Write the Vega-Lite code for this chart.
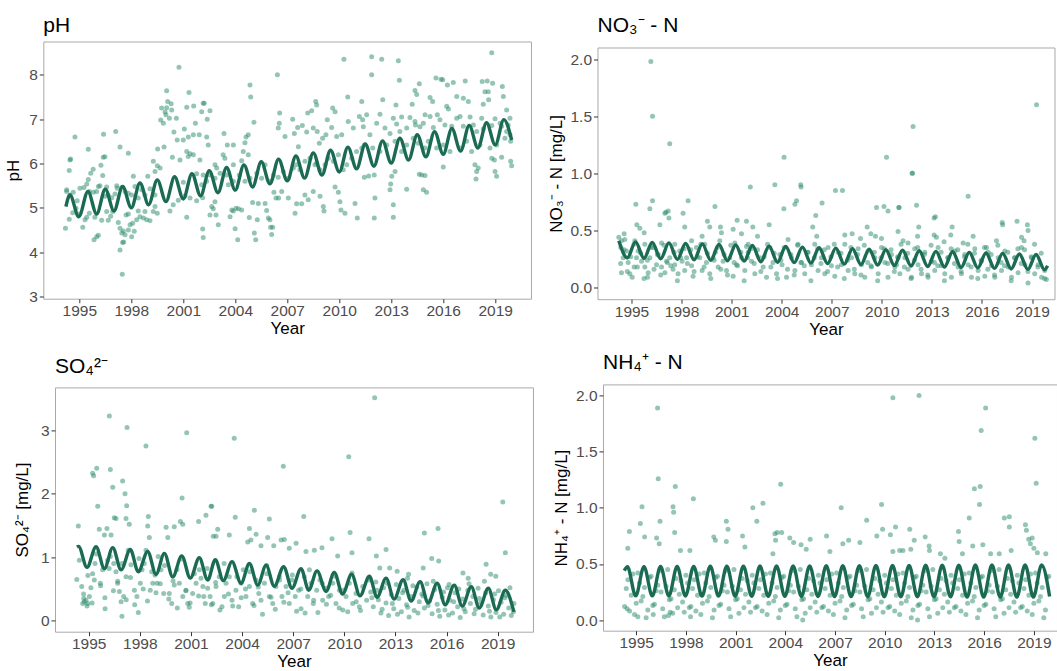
{
 "$schema": "https://vega.github.io/schema/vega-lite/v6.json",
 "padding": {"left": 0, "top": -4.4, "right": 0, "bottom": -0.5},
 "background": "white",
 "config": {
  "font": "Liberation Sans",
  "view": {"stroke": "#A9A9A9", "strokeWidth": 1},
  "axis": {"grid": false, "domain": false, "ticks": true, "tickSize": 4, "tickColor": "#333333", "tickWidth": 1,
   "labelFont": "Liberation Sans", "labelFontSize": 15.5, "labelColor": "#4D4D4D", "labelFlush": false, "labelOverlap": false,
   "titleFont": "Liberation Sans", "titleFontSize": 17, "titleFontWeight": "normal", "titleColor": "#000000"},
  "axisX": {"labelPadding": 1, "titlePadding": 1.7, "labelAngle": 0},
  "axisY": {"labelPadding": 2},
  "title": {"font": "Liberation Sans", "fontSize": 21, "fontWeight": "normal", "anchor": "start", "frame": "group", "color": "#000000", "baseline": "alphabetic"}
 },
 "datasets": {
  "ph": [
{"t":2000.75,"v":8.17},{"t":2000.04,"v":7.64},{"t":2001.33,"v":7.6},{"t":2000.1,"v":7.4},{"t":2000.3,"v":7.35},{"t":1999.75,"v":7.25},{"t":2000.04,"v":7.26},{"t":2000.33,"v":7.21},{"t":2001.2,"v":7.27},{"t":2001.6,"v":7.3},{"t":2002.15,"v":7.36},{"t":1999.95,"v":7.16},{"t":2000.0,"v":7.1},{"t":1999.7,"v":6.98},{"t":1999.85,"v":6.91},{"t":2000.6,"v":7.02},{"t":2000.2,"v":7.02},{"t":2001.06,"v":6.78},{"t":2001.7,"v":6.91},{"t":1997.1,"v":6.72},{"t":1994.75,"v":6.6},{"t":1996.4,"v":6.66},{"t":2000.46,"v":6.71},{"t":2000.65,"v":6.53},{"t":2001.0,"v":6.53},{"t":2001.29,"v":6.6},{"t":2001.58,"v":6.65},{"t":2001.92,"v":6.65},{"t":1997.35,"v":6.37},{"t":1997.83,"v":6.23},{"t":1995.52,"v":6.32},{"t":1999.52,"v":6.33},{"t":1999.89,"v":6.37},{"t":2001.2,"v":6.27},{"t":2001.58,"v":6.2},{"t":2001.39,"v":6.22},{"t":1994.5,"v":6.1},{"t":1994.46,"v":6.08},{"t":1996.48,"v":6.15},{"t":1996.38,"v":6.14},{"t":2000.37,"v":6.14},{"t":2000.81,"v":6.08},{"t":2001.29,"v":6.16},{"t":2001.96,"v":6.08},{"t":1996.25,"v":5.96},{"t":1995.8,"v":5.87},{"t":1995.66,"v":5.78},{"t":1995.52,"v":5.64},{"t":1995.43,"v":5.54},{"t":1994.42,"v":5.84},{"t":1994.27,"v":5.37},{"t":1996.35,"v":5.73},{"t":1998.12,"v":5.71},{"t":1997.16,"v":5.5},{"t":1996.58,"v":5.47},{"t":1996.1,"v":5.48},{"t":1998.95,"v":5.71},{"t":1999.5,"v":5.95},{"t":1999.27,"v":6.05},{"t":1999.37,"v":5.82},{"t":1999.66,"v":5.9},{"t":2001.0,"v":5.58},{"t":2001.77,"v":5.77},{"t":2002.15,"v":5.74},
{"t":1994.2,"v":4.54},{"t":1994.42,"v":4.74},{"t":1994.62,"v":4.89},{"t":1994.81,"v":4.99},{"t":1995.0,"v":4.86},{"t":1995.2,"v":4.56},{"t":1995.33,"v":4.73},{"t":1995.43,"v":4.79},{"t":1995.58,"v":4.88},{"t":1995.9,"v":4.79},{"t":1996.0,"v":4.35},{"t":1996.1,"v":4.38},{"t":1995.85,"v":4.28},{"t":1996.29,"v":4.72},{"t":1996.67,"v":4.72},{"t":1996.81,"v":4.81},{"t":1996.93,"v":4.92},{"t":1996.58,"v":4.92},{"t":1997.25,"v":4.67},{"t":1997.35,"v":4.54},{"t":1997.45,"v":4.43},{"t":1997.54,"v":4.48},{"t":1997.64,"v":4.39},{"t":1997.5,"v":4.22},{"t":1997.35,"v":4.05},{"t":1997.56,"v":4.23},{"t":1997.83,"v":4.5},{"t":1997.93,"v":4.62},{"t":1998.08,"v":4.65},{"t":1998.17,"v":4.47},{"t":1997.48,"v":3.5},{"t":1997.7,"v":4.84},{"t":1997.83,"v":4.86},{"t":1998.02,"v":4.35},{"t":1998.31,"v":4.73},{"t":1998.5,"v":4.8},{"t":1998.7,"v":4.77},{"t":1998.89,"v":4.73},{"t":1999.08,"v":4.71},{"t":1998.79,"v":4.92},{"t":1998.4,"v":4.93},{"t":1999.27,"v":4.92},{"t":1999.5,"v":4.88},{"t":1999.37,"v":5.03},{"t":2000.23,"v":4.93},{"t":2000.42,"v":5.07},{"t":2000.71,"v":5.17},{"t":2001.1,"v":5.27},{"t":2001.39,"v":5.22},{"t":2001.77,"v":5.16},{"t":2002.12,"v":5.23},{"t":2001.2,"v":4.79},
{"t":1994.27,"v":5.41},{"t":1994.46,"v":5.29},{"t":1994.65,"v":5.35},{"t":1994.88,"v":5.16},{"t":1995.04,"v":5.44},{"t":1995.27,"v":5.46},{"t":1995.58,"v":5.37},{"t":1995.81,"v":5.35},{"t":1996.0,"v":5.37},{"t":1996.19,"v":5.5},{"t":1996.48,"v":5.26},{"t":1996.67,"v":5.29},{"t":1996.87,"v":5.23},{"t":1997.06,"v":5.31},{"t":1997.19,"v":5.44},{"t":1997.45,"v":5.46},{"t":1997.64,"v":5.37},{"t":1997.83,"v":5.33},{"t":1998.02,"v":5.29},{"t":1998.21,"v":5.48},{"t":1998.4,"v":5.22},{"t":1998.6,"v":5.41},{"t":1998.79,"v":5.29},{"t":1999.08,"v":5.43},{"t":1999.37,"v":5.29},
{"t":2010.27,"v":8.35},{"t":2006.43,"v":8.0},{"t":2004.85,"v":7.77},{"t":2004.89,"v":7.5},{"t":2002.21,"v":7.36},{"t":2002.54,"v":7.19},{"t":2002.06,"v":7.17},{"t":2002.38,"v":7.0},{"t":2003.35,"v":6.68},{"t":2002.35,"v":6.6},{"t":2002.44,"v":6.42},{"t":2003.54,"v":6.42},{"t":2003.89,"v":6.42},{"t":2005.08,"v":6.93},{"t":2004.75,"v":6.65},{"t":2004.62,"v":6.6},{"t":2004.56,"v":6.47},{"t":2004.75,"v":6.2},{"t":2004.46,"v":6.27},{"t":2003.3,"v":6.2},{"t":2003.4,"v":6.12},{"t":2003.89,"v":5.97},{"t":2004.37,"v":6.06},{"t":2002.83,"v":5.97},{"t":2002.93,"v":5.9},{"t":2002.54,"v":5.74},
{"t":2002.06,"v":5.52},{"t":2002.35,"v":5.6},{"t":2002.83,"v":5.67},{"t":2003.12,"v":5.78},{"t":2003.5,"v":5.74},{"t":2003.6,"v":5.52},{"t":2003.89,"v":5.6},{"t":2004.23,"v":5.74},{"t":2004.56,"v":5.6},{"t":2004.85,"v":5.67},{"t":2005.24,"v":5.78},{"t":2005.52,"v":5.67},{"t":2005.72,"v":5.97},{"t":2006.0,"v":5.6},{"t":2006.2,"v":5.74},{"t":2006.48,"v":5.69},{"t":2006.77,"v":5.82},{"t":2007.06,"v":5.67},{"t":2007.35,"v":5.9},{"t":2007.54,"v":5.97},{"t":2007.73,"v":5.86},{"t":2008.02,"v":6.05},{"t":2008.31,"v":6.12},{"t":2008.6,"v":5.97},{"t":2008.7,"v":6.01},{"t":2008.89,"v":5.86},{"t":2009.18,"v":5.97},{"t":2009.37,"v":6.12},{"t":2009.66,"v":6.05},{"t":2009.95,"v":6.2},{"t":2010.23,"v":5.86},{"t":2010.43,"v":5.97},{"t":2010.72,"v":6.12},{"t":2011.0,"v":6.27},{"t":2011.3,"v":6.35},
{"t":2002.12,"v":4.52},{"t":2002.15,"v":4.33},{"t":2002.64,"v":5.03},{"t":2002.73,"v":4.98},{"t":2002.89,"v":4.84},{"t":2003.02,"v":4.62},{"t":2002.54,"v":4.84},{"t":2002.83,"v":5.14},{"t":2003.7,"v":4.8},{"t":2003.8,"v":4.95},{"t":2003.89,"v":4.93},{"t":2004.04,"v":4.99},{"t":2004.18,"v":4.98},{"t":2004.37,"v":4.95},{"t":2003.99,"v":4.53},{"t":2004.14,"v":4.28},{"t":2004.81,"v":4.78},{"t":2005.0,"v":5.12},{"t":2005.1,"v":4.43},{"t":2005.18,"v":4.28},{"t":2005.27,"v":4.73},{"t":2005.33,"v":5.1},{"t":2005.72,"v":5.1},{"t":2005.81,"v":4.94},{"t":2005.91,"v":4.77},{"t":2006.0,"v":4.73},{"t":2006.04,"v":4.56},{"t":2006.1,"v":4.4},{"t":2006.16,"v":4.56},{"t":2006.23,"v":5.35},{"t":2006.35,"v":5.22},{"t":2006.5,"v":5.22},{"t":2006.68,"v":5.37},{"t":2007.06,"v":5.22},{"t":2007.45,"v":4.88},{"t":2007.54,"v":5.09},{"t":2007.83,"v":5.09},{"t":2008.02,"v":5.29},{"t":2008.21,"v":5.18},{"t":2008.5,"v":5.37},{"t":2009.08,"v":5.03},{"t":2009.12,"v":4.93},{"t":2008.89,"v":5.26},{"t":2009.76,"v":5.47},{"t":2009.95,"v":5.35},{"t":2010.04,"v":5.14},{"t":2010.1,"v":4.95},{"t":2010.33,"v":4.88},{"t":2010.91,"v":5.1},{"t":2011.04,"v":4.77},
{"t":2006.56,"v":7.14},{"t":2006.54,"v":6.91},{"t":2006.48,"v":6.8},{"t":2006.87,"v":6.61},{"t":2007.31,"v":7.0},{"t":2007.41,"v":6.68},{"t":2007.6,"v":6.81},{"t":2007.87,"v":6.86},{"t":2007.64,"v":6.38},{"t":2008.12,"v":6.71},{"t":2008.18,"v":7.14},{"t":2008.41,"v":7.19},{"t":2008.64,"v":7.4},{"t":2008.7,"v":7.32},{"t":2008.5,"v":6.8},{"t":2008.73,"v":6.72},{"t":2008.85,"v":6.46},{"t":2009.04,"v":6.57},{"t":2009.23,"v":6.65},{"t":2009.31,"v":6.99},{"t":2009.56,"v":6.81},{"t":2009.62,"v":7.25},{"t":2009.76,"v":7.17},{"t":2009.85,"v":6.61},{"t":2010.14,"v":6.65},{"t":2010.49,"v":7.5},{"t":2010.52,"v":6.95},{"t":2010.81,"v":6.8},{"t":2011.16,"v":7.06},{"t":2011.3,"v":7.4},{"t":2011.35,"v":6.99},
{"t":2018.8,"v":8.5},{"t":2011.87,"v":8.41},{"t":2012.45,"v":8.35},{"t":2013.41,"v":8.32},{"t":2011.87,"v":8.0},{"t":2013.47,"v":7.88},{"t":2012.51,"v":7.44},{"t":2014.62,"v":7.8},{"t":2014.37,"v":7.65},{"t":2014.47,"v":7.56},{"t":2015.87,"v":7.9},{"t":2015.58,"v":7.93},{"t":2015.97,"v":7.89},{"t":2016.58,"v":7.83},{"t":2016.24,"v":7.77},{"t":2017.27,"v":7.86},{"t":2018.25,"v":7.85},{"t":2018.54,"v":7.86},{"t":2018.85,"v":7.81},{"t":2019.41,"v":7.74},{"t":2019.47,"v":7.51},{"t":2013.27,"v":7.32},{"t":2014.21,"v":7.34},{"t":2015.24,"v":7.49},{"t":2015.39,"v":7.4},{"t":2016.2,"v":7.29},{"t":2016.78,"v":7.51},{"t":2017.16,"v":7.47},{"t":2017.45,"v":7.4},{"t":2018.41,"v":7.62},{"t":2018.6,"v":7.62},{"t":2018.31,"v":7.34},{"t":2018.62,"v":7.44},{"t":2019.66,"v":7.21},{"t":2019.85,"v":7.02},{"t":2019.66,"v":6.72},{"t":2019.85,"v":6.65},{"t":2011.58,"v":7.1},{"t":2012.35,"v":7.11},{"t":2013.12,"v":7.02},{"t":2013.6,"v":7.05},{"t":2014.08,"v":7.04},{"t":2014.37,"v":6.95},{"t":2014.95,"v":7.1},{"t":2015.24,"v":7.06},{"t":2015.66,"v":7.1},{"t":2016.3,"v":7.23},{"t":2016.97,"v":7.06},{"t":2017.55,"v":7.05},{"t":2018.22,"v":7.02},{"t":2018.99,"v":7.01},{"t":2019.28,"v":6.91},
{"t":2011.39,"v":6.83},{"t":2011.77,"v":6.65},{"t":2012.16,"v":6.91},{"t":2012.64,"v":6.8},{"t":2012.93,"v":6.68},{"t":2013.31,"v":6.89},{"t":2013.5,"v":6.72},{"t":2013.89,"v":6.8},{"t":2014.4,"v":6.87},{"t":2014.66,"v":6.83},{"t":2014.85,"v":6.91},{"t":2015.43,"v":6.81},{"t":2015.81,"v":6.99},{"t":2016.1,"v":6.87},{"t":2016.49,"v":6.84},{"t":2016.78,"v":7.02},{"t":2017.16,"v":6.84},{"t":2017.74,"v":6.87},{"t":2017.93,"v":6.72},{"t":2018.31,"v":6.78},{"t":2018.8,"v":6.86},{"t":2019.37,"v":6.84},{"t":2019.75,"v":6.87},
{"t":2011.45,"v":6.42},{"t":2011.93,"v":6.35},{"t":2012.35,"v":6.27},{"t":2012.74,"v":6.42},{"t":2013.22,"v":6.5},{"t":2013.6,"v":6.27},{"t":2013.89,"v":6.42},{"t":2014.27,"v":6.57},{"t":2014.56,"v":6.46},{"t":2014.95,"v":6.35},{"t":2015.14,"v":6.5},{"t":2015.62,"v":6.35},{"t":2016.0,"v":6.42},{"t":2016.39,"v":6.27},{"t":2016.97,"v":6.35},{"t":2017.35,"v":6.5},{"t":2017.64,"v":6.27},{"t":2018.12,"v":6.42},{"t":2018.7,"v":6.35},{"t":2019.08,"v":6.42},{"t":2019.56,"v":6.57},{"t":2019.89,"v":6.5},
{"t":2011.45,"v":5.69},{"t":2011.7,"v":5.72},{"t":2012.02,"v":5.74},{"t":2012.06,"v":5.22},{"t":2012.02,"v":4.77},{"t":2012.93,"v":5.41},{"t":2012.97,"v":5.54},{"t":2013.03,"v":5.71},{"t":2013.22,"v":5.82},{"t":2013.12,"v":5.07},{"t":2013.12,"v":4.79},{"t":2013.89,"v":5.42},{"t":2014.62,"v":5.76},{"t":2014.76,"v":5.74},{"t":2014.95,"v":5.73},{"t":2014.85,"v":5.41},{"t":2015.04,"v":5.35},{"t":2016.0,"v":5.92},{"t":2017.83,"v":5.97},{"t":2018.02,"v":5.9},{"t":2017.93,"v":5.82},{"t":2017.89,"v":5.65},{"t":2018.8,"v":6.12},{"t":2018.95,"v":6.08},{"t":2018.99,"v":5.82},{"t":2019.08,"v":5.71},{"t":2019.37,"v":6.14},{"t":2019.89,"v":6.05},{"t":2019.95,"v":5.95}
  ],
  "phL": [
{"t":1994.23,"v":5.03},{"t":1994.46,"v":5.29},{"t":1994.97,"v":4.8},{"t":1995.5,"v":5.37},{"t":1996.0,"v":4.86},{"t":1996.5,"v":5.42},{"t":1997.0,"v":4.93},{"t":1997.5,"v":5.48},{"t":1998.0,"v":5.0},{"t":1998.5,"v":5.56},{"t":1999.0,"v":5.07},{"t":1999.5,"v":5.63},{"t":2000.0,"v":5.14},{"t":2000.5,"v":5.7},{"t":2001.0,"v":5.2},{"t":2001.5,"v":5.77},{"t":2002.0,"v":5.27},{"t":2002.5,"v":5.84},{"t":2003.0,"v":5.34},{"t":2003.5,"v":5.91},{"t":2004.0,"v":5.4},{"t":2004.5,"v":5.97},{"t":2005.0,"v":5.47},{"t":2005.5,"v":6.04},{"t":2006.0,"v":5.54},{"t":2006.5,"v":6.1},{"t":2007.0,"v":5.61},{"t":2007.5,"v":6.17},{"t":2008.0,"v":5.67},{"t":2008.5,"v":6.24},{"t":2009.0,"v":5.74},{"t":2009.5,"v":6.3},{"t":2010.0,"v":5.81},{"t":2010.5,"v":6.37},{"t":2011.0,"v":5.88},{"t":2011.5,"v":6.44},{"t":2012.0,"v":5.94},{"t":2012.5,"v":6.51},{"t":2013.0,"v":6.01},{"t":2013.5,"v":6.57},{"t":2014.0,"v":6.08},{"t":2014.5,"v":6.65},{"t":2015.0,"v":6.15},{"t":2015.5,"v":6.72},{"t":2016.0,"v":6.21},{"t":2016.5,"v":6.79},{"t":2017.0,"v":6.28},{"t":2017.5,"v":6.86},{"t":2018.0,"v":6.35},{"t":2018.5,"v":6.92},{"t":2019.0,"v":6.42},{"t":2019.5,"v":6.99},{"t":2019.95,"v":6.53}
  ],
  "no3": [
{"t":1996.16,"v":1.98},{"t":1996.26,"v":1.5},{"t":1997.29,"v":1.26},{"t":1995.26,"v":0.73},{"t":1996.1,"v":0.69},{"t":1996.26,"v":0.76},{"t":1997.06,"v":0.66},{"t":1997.2,"v":0.67},{"t":1997.24,"v":0.61},{"t":1997.0,"v":0.65},{"t":1998.39,"v":0.76},{"t":1998.09,"v":0.65},{"t":2000.0,"v":0.71},{"t":1995.32,"v":0.55},{"t":1995.5,"v":0.52},{"t":1995.76,"v":0.48},{"t":1996.7,"v":0.55},{"t":1998.19,"v":0.53},{"t":1999.23,"v":0.45},{"t":1999.55,"v":0.58},{"t":1999.69,"v":0.53},{"t":2000.33,"v":0.53},{"t":2000.39,"v":0.48},{"t":2001.09,"v":0.51},{"t":2001.33,"v":0.59},{"t":2002.12,"v":0.88},{"t":2001.59,"v":0.47},
{"t":1994.24,"v":0.44},{"t":1994.4,"v":0.41},{"t":1994.56,"v":0.47},{"t":1994.36,"v":0.35},{"t":1994.7,"v":0.32},{"t":1994.5,"v":0.26},{"t":1994.8,"v":0.22},{"t":1994.4,"v":0.13},{"t":1994.9,"v":0.12},{"t":1995.04,"v":0.09},{"t":1995.16,"v":0.18},{"t":1995.3,"v":0.26},{"t":1995.4,"v":0.32},{"t":1995.6,"v":0.23},{"t":1995.8,"v":0.18},{"t":1996.0,"v":0.13},{"t":1995.96,"v":0.09},{"t":1996.1,"v":0.26},{"t":1996.3,"v":0.35},{"t":1996.5,"v":0.2},{"t":1996.6,"v":0.29},{"t":1996.8,"v":0.18},{"t":1997.0,"v":0.13},{"t":1997.1,"v":0.23},{"t":1997.29,"v":0.26},{"t":1997.49,"v":0.16},{"t":1997.59,"v":0.2},{"t":1997.79,"v":0.12},{"t":1997.89,"v":0.32},{"t":1998.03,"v":0.23},{"t":1998.19,"v":0.15},{"t":1998.3,"v":0.26},{"t":1998.6,"v":0.19},{"t":1998.69,"v":0.1},{"t":1998.89,"v":0.35},{"t":1999.09,"v":0.26},{"t":1999.23,"v":0.15},{"t":1999.49,"v":0.22},{"t":1999.69,"v":0.12},{"t":1999.89,"v":0.26},{"t":2000.03,"v":0.31},{"t":2000.19,"v":0.18},{"t":2000.49,"v":0.23},{"t":2000.69,"v":0.15},{"t":2000.89,"v":0.26},{"t":2001.09,"v":0.1},{"t":2001.29,"v":0.2},{"t":2001.59,"v":0.26},{"t":2001.79,"v":0.15},{"t":2001.99,"v":0.31},
{"t":1994.6,"v":0.42},{"t":1995.2,"v":0.41},{"t":1995.8,"v":0.38},{"t":1996.8,"v":0.39},{"t":1997.59,"v":0.38},{"t":1998.6,"v":0.41},{"t":1999.39,"v":0.38},{"t":2000.29,"v":0.41},{"t":2001.19,"v":0.39},{"t":2001.89,"v":0.36},
{"t":2004.14,"v":1.14},{"t":2010.28,"v":1.14},{"t":2003.59,"v":0.9},{"t":2005.14,"v":0.9},{"t":2005.16,"v":0.88},{"t":2007.22,"v":0.85},{"t":2007.64,"v":0.85},{"t":2004.89,"v":0.76},{"t":2004.79,"v":0.73},{"t":2004.13,"v":0.69},{"t":2006.04,"v":0.63},{"t":2006.42,"v":0.74},{"t":2005.86,"v":0.53},{"t":2006.1,"v":0.45},{"t":2001.89,"v":0.58},{"t":2002.27,"v":0.53},{"t":2003.25,"v":0.55},{"t":2002.55,"v":0.45},{"t":2007.78,"v":0.46},{"t":2008.22,"v":0.47},{"t":2008.72,"v":0.43},{"t":2009.12,"v":0.53},{"t":2009.34,"v":0.47},{"t":2009.62,"v":0.45},{"t":2009.68,"v":0.7},{"t":2010.13,"v":0.71},{"t":2010.37,"v":0.67},{"t":2011.02,"v":0.7},{"t":2009.98,"v":0.43},
{"t":2001.99,"v":0.38},{"t":2002.19,"v":0.23},{"t":2002.39,"v":0.12},{"t":2002.69,"v":0.26},{"t":2002.89,"v":0.18},{"t":2003.09,"v":0.09},{"t":2003.29,"v":0.35},{"t":2003.48,"v":0.22},{"t":2003.69,"v":0.12},{"t":2003.89,"v":0.29},{"t":2004.02,"v":0.2},{"t":2004.29,"v":0.09},{"t":2004.38,"v":0.42},{"t":2004.59,"v":0.26},{"t":2004.79,"v":0.15},{"t":2004.98,"v":0.38},{"t":2005.19,"v":0.22},{"t":2005.38,"v":0.12},{"t":2005.58,"v":0.31},{"t":2005.78,"v":0.2},{"t":2005.98,"v":0.38},{"t":2006.18,"v":0.15},{"t":2006.38,"v":0.26},{"t":2006.58,"v":0.12},{"t":2006.78,"v":0.35},{"t":2006.98,"v":0.19},{"t":2007.18,"v":0.1},{"t":2007.38,"v":0.31},{"t":2007.58,"v":0.2},{"t":2007.78,"v":0.38},{"t":2007.98,"v":0.15},{"t":2008.18,"v":0.26},{"t":2008.38,"v":0.12},{"t":2008.58,"v":0.34},{"t":2008.78,"v":0.2},{"t":2008.98,"v":0.09},{"t":2009.18,"v":0.32},{"t":2009.38,"v":0.18},{"t":2009.58,"v":0.26},{"t":2009.78,"v":0.12},{"t":2009.98,"v":0.35},{"t":2010.18,"v":0.22},{"t":2010.37,"v":0.09},{"t":2010.58,"v":0.29},{"t":2010.78,"v":0.18},{"t":2010.97,"v":0.26},
{"t":2019.27,"v":1.6},{"t":2011.87,"v":1.41},{"t":2011.81,"v":1.0},{"t":2011.84,"v":1.0},{"t":2015.17,"v":0.8},{"t":2011.03,"v":0.7},{"t":2012.08,"v":0.72},{"t":2013.13,"v":0.61},{"t":2013.21,"v":0.62},{"t":2012.21,"v":0.53},{"t":2012.14,"v":0.45},{"t":2013.13,"v":0.46},{"t":2013.27,"v":0.44},{"t":2013.73,"v":0.4},{"t":2014.13,"v":0.46},{"t":2014.21,"v":0.53},{"t":2014.87,"v":0.39},{"t":2015.47,"v":0.45},{"t":2016.27,"v":0.35},{"t":2016.87,"v":0.41},{"t":2017.21,"v":0.57},{"t":2017.24,"v":0.55},{"t":2018.1,"v":0.58},{"t":2018.37,"v":0.44},{"t":2018.52,"v":0.41},{"t":2018.72,"v":0.55},{"t":2018.76,"v":0.5},{"t":2010.97,"v":0.49},{"t":2011.27,"v":0.41},{"t":2011.57,"v":0.39},
{"t":2010.88,"v":0.2},{"t":2011.08,"v":0.12},{"t":2011.38,"v":0.26},{"t":2011.57,"v":0.16},{"t":2011.78,"v":0.09},{"t":2011.97,"v":0.34},{"t":2012.17,"v":0.2},{"t":2012.38,"v":0.12},{"t":2012.57,"v":0.31},{"t":2012.77,"v":0.09},{"t":2012.97,"v":0.23},{"t":2013.17,"v":0.15},{"t":2013.37,"v":0.35},{"t":2013.57,"v":0.19},{"t":2013.77,"v":0.12},{"t":2013.97,"v":0.26},{"t":2014.17,"v":0.09},{"t":2014.37,"v":0.32},{"t":2014.57,"v":0.18},{"t":2014.77,"v":0.12},{"t":2014.97,"v":0.29},{"t":2015.17,"v":0.2},{"t":2015.37,"v":0.09},{"t":2015.57,"v":0.34},{"t":2015.77,"v":0.15},{"t":2015.97,"v":0.23},{"t":2016.17,"v":0.1},{"t":2016.37,"v":0.31},{"t":2016.57,"v":0.19},{"t":2016.77,"v":0.09},{"t":2016.97,"v":0.26},{"t":2017.17,"v":0.15},{"t":2017.37,"v":0.32},{"t":2017.57,"v":0.18},{"t":2017.77,"v":0.09},{"t":2017.97,"v":0.26},{"t":2018.16,"v":0.13},{"t":2018.37,"v":0.35},{"t":2018.57,"v":0.2},{"t":2018.76,"v":0.04},{"t":2018.97,"v":0.26},{"t":2019.16,"v":0.12},{"t":2019.36,"v":0.2},{"t":2019.57,"v":0.09},{"t":2019.76,"v":0.15},{"t":2019.86,"v":0.07},
{"t":1994.35,"v":0.21},{"t":1994.55,"v":0.33},{"t":1994.75,"v":0.14},{"t":1994.95,"v":0.27},{"t":1995.15,"v":0.38},{"t":1995.35,"v":0.18},{"t":1995.55,"v":0.3},{"t":1995.75,"v":0.08},{"t":1995.95,"v":0.24},{"t":1996.15,"v":0.35},{"t":1996.35,"v":0.16},{"t":1996.55,"v":0.29},{"t":1996.75,"v":0.11},{"t":1996.95,"v":0.37},{"t":1997.15,"v":0.22},{"t":1997.35,"v":0.19},{"t":1997.55,"v":0.31},{"t":1997.75,"v":0.06},{"t":1997.95,"v":0.26},{"t":1998.15,"v":0.34},
{"t":1998.35,"v":0.21},{"t":1998.55,"v":0.33},{"t":1998.75,"v":0.14},{"t":1998.95,"v":0.27},{"t":1999.15,"v":0.38},{"t":1999.35,"v":0.18},{"t":1999.55,"v":0.3},{"t":1999.75,"v":0.08},{"t":1999.95,"v":0.24},{"t":2000.15,"v":0.35},{"t":2000.35,"v":0.16},{"t":2000.55,"v":0.29},{"t":2000.75,"v":0.11},{"t":2000.95,"v":0.37},{"t":2001.15,"v":0.22},{"t":2001.35,"v":0.19},{"t":2001.55,"v":0.31},{"t":2001.75,"v":0.06},{"t":2001.95,"v":0.26},{"t":2002.15,"v":0.34},
{"t":2002.35,"v":0.21},{"t":2002.55,"v":0.33},{"t":2002.75,"v":0.14},{"t":2002.95,"v":0.27},{"t":2003.15,"v":0.38},{"t":2003.35,"v":0.18},{"t":2003.55,"v":0.3},{"t":2003.75,"v":0.08},{"t":2003.95,"v":0.24},{"t":2004.15,"v":0.35},{"t":2004.35,"v":0.16},{"t":2004.55,"v":0.29},{"t":2004.75,"v":0.11},{"t":2004.95,"v":0.37},{"t":2005.15,"v":0.22},{"t":2005.35,"v":0.19},{"t":2005.55,"v":0.31},{"t":2005.75,"v":0.06},{"t":2005.95,"v":0.26},{"t":2006.15,"v":0.34},
{"t":2006.35,"v":0.21},{"t":2006.55,"v":0.33},{"t":2006.75,"v":0.14},{"t":2006.95,"v":0.27},{"t":2007.15,"v":0.38},{"t":2007.35,"v":0.18},{"t":2007.55,"v":0.3},{"t":2007.75,"v":0.08},{"t":2007.95,"v":0.24},{"t":2008.15,"v":0.35},{"t":2008.35,"v":0.16},{"t":2008.55,"v":0.29},{"t":2008.75,"v":0.11},{"t":2008.95,"v":0.37},{"t":2009.15,"v":0.22},{"t":2009.35,"v":0.19},{"t":2009.55,"v":0.31},{"t":2009.75,"v":0.06},{"t":2009.95,"v":0.26},{"t":2010.15,"v":0.34},
{"t":2010.35,"v":0.21},{"t":2010.55,"v":0.33},{"t":2010.75,"v":0.14},{"t":2010.95,"v":0.27},{"t":2011.15,"v":0.38},{"t":2011.35,"v":0.18},{"t":2011.55,"v":0.3},{"t":2011.75,"v":0.08},{"t":2011.95,"v":0.24},{"t":2012.15,"v":0.35},{"t":2012.35,"v":0.16},{"t":2012.55,"v":0.29},{"t":2012.75,"v":0.11},{"t":2012.95,"v":0.37},{"t":2013.15,"v":0.22},{"t":2013.35,"v":0.19},{"t":2013.55,"v":0.31},{"t":2013.75,"v":0.06},{"t":2013.95,"v":0.26},{"t":2014.15,"v":0.34},
{"t":2014.35,"v":0.21},{"t":2014.55,"v":0.33},{"t":2014.75,"v":0.14},{"t":2014.95,"v":0.27},{"t":2015.15,"v":0.38},{"t":2015.35,"v":0.18},{"t":2015.55,"v":0.3},{"t":2015.75,"v":0.08},{"t":2015.95,"v":0.24},{"t":2016.15,"v":0.35},{"t":2016.35,"v":0.16},{"t":2016.55,"v":0.29},{"t":2016.75,"v":0.11},{"t":2016.95,"v":0.37},{"t":2017.15,"v":0.22},{"t":2017.35,"v":0.19},{"t":2017.55,"v":0.31},{"t":2017.75,"v":0.06},{"t":2017.95,"v":0.26},{"t":2018.15,"v":0.34},
{"t":2018.35,"v":0.21},{"t":2018.55,"v":0.33},{"t":2018.75,"v":0.14},{"t":2018.95,"v":0.27},{"t":2019.15,"v":0.38},{"t":2019.35,"v":0.18},{"t":2019.55,"v":0.3},{"t":2019.75,"v":0.08}
  ],
  "no3L": [
{"t":1994.24,"v":0.41},{"t":1994.75,"v":0.26},{"t":1995.24,"v":0.4},{"t":1995.75,"v":0.256},{"t":1996.24,"v":0.395},{"t":1996.75,"v":0.252},{"t":1997.24,"v":0.391},{"t":1997.75,"v":0.247},{"t":1998.24,"v":0.386},{"t":1998.75,"v":0.243},{"t":1999.24,"v":0.382},{"t":1999.75,"v":0.239},{"t":2000.24,"v":0.377},{"t":2000.75,"v":0.235},{"t":2001.24,"v":0.372},{"t":2001.75,"v":0.231},{"t":2002.24,"v":0.368},{"t":2002.75,"v":0.226},{"t":2003.24,"v":0.363},{"t":2003.75,"v":0.222},{"t":2004.24,"v":0.359},{"t":2004.75,"v":0.218},{"t":2005.24,"v":0.354},{"t":2005.75,"v":0.214},{"t":2006.24,"v":0.349},{"t":2006.75,"v":0.21},{"t":2007.24,"v":0.345},{"t":2007.75,"v":0.205},{"t":2008.24,"v":0.34},{"t":2008.75,"v":0.201},{"t":2009.24,"v":0.336},{"t":2009.75,"v":0.197},{"t":2010.24,"v":0.331},{"t":2010.75,"v":0.193},{"t":2011.24,"v":0.326},{"t":2011.75,"v":0.189},{"t":2012.24,"v":0.322},{"t":2012.75,"v":0.184},{"t":2013.24,"v":0.317},{"t":2013.75,"v":0.18},{"t":2014.24,"v":0.313},{"t":2014.75,"v":0.176},{"t":2015.24,"v":0.308},{"t":2015.75,"v":0.172},{"t":2016.24,"v":0.303},{"t":2016.75,"v":0.168},{"t":2017.24,"v":0.299},{"t":2017.75,"v":0.163},{"t":2018.24,"v":0.294},{"t":2018.75,"v":0.159},{"t":2019.24,"v":0.29},{"t":2019.75,"v":0.155},{"t":2019.93,"v":0.19}
  ],
  "so4": [
{"t":1996.21,"v":3.22},{"t":1997.25,"v":3.04},{"t":2000.75,"v":2.96},{"t":1998.36,"v":2.75},{"t":1995.23,"v":2.32},{"t":1995.29,"v":2.28},{"t":1995.47,"v":2.4},{"t":1996.27,"v":2.38},{"t":1996.41,"v":2.1},{"t":1996.99,"v":2.2},{"t":1997.13,"v":2.0},{"t":1997.23,"v":1.81},{"t":1995.53,"v":1.8},{"t":1997.38,"v":1.52},{"t":1996.6,"v":1.61},{"t":1996.5,"v":1.62},{"t":1994.39,"v":1.49},{"t":1995.62,"v":1.44},{"t":1995.92,"v":1.35},{"t":1996.07,"v":1.45},{"t":1996.31,"v":1.35},{"t":1997.19,"v":1.61},{"t":1998.46,"v":1.49},{"t":1998.5,"v":1.64},{"t":1998.56,"v":1.31},{"t":2000.48,"v":1.93},{"t":2000.38,"v":1.56},{"t":2000.52,"v":1.52},{"t":1999.54,"v":1.47},{"t":1999.64,"v":1.31},{"t":2000.02,"v":1.48},{"t":2001.45,"v":1.56},{"t":2001.88,"v":1.66},{"t":2002.18,"v":1.8},
{"t":1994.3,"v":0.65},{"t":1994.59,"v":0.54},{"t":1994.71,"v":0.35},{"t":1994.74,"v":0.3},{"t":1994.84,"v":0.32},{"t":1994.94,"v":0.27},{"t":1994.65,"v":0.27},{"t":1995.04,"v":0.38},{"t":1994.9,"v":0.23},{"t":1995.13,"v":0.52},{"t":1995.23,"v":0.74},{"t":1995.33,"v":0.64},{"t":1995.37,"v":0.9},{"t":1995.68,"v":0.59},{"t":1995.82,"v":0.8},{"t":1995.96,"v":0.19},{"t":1996.11,"v":0.95},{"t":1996.27,"v":1.01},{"t":1996.47,"v":0.9},{"t":1996.6,"v":0.77},{"t":1996.7,"v":0.59},{"t":1996.8,"v":0.46},{"t":1996.9,"v":0.3},{"t":1996.95,"v":0.07},{"t":1997.05,"v":0.38},{"t":1997.19,"v":0.69},{"t":1997.32,"v":1.11},{"t":1997.48,"v":0.88},{"t":1997.68,"v":0.48},{"t":1997.83,"v":0.38},{"t":1997.91,"v":0.13},{"t":1998.03,"v":0.59},{"t":1998.13,"v":0.8},{"t":1998.26,"v":0.9},{"t":1998.36,"v":1.11},{"t":1998.61,"v":0.48},{"t":1998.76,"v":0.59},{"t":1998.89,"v":0.72},{"t":1999.01,"v":0.59},{"t":1999.08,"v":1.01},{"t":1999.24,"v":0.8},{"t":1999.4,"v":0.43},{"t":1999.73,"v":0.43},{"t":1999.87,"v":0.27},{"t":2000.02,"v":0.56},{"t":2000.18,"v":0.8},{"t":2000.32,"v":0.59},{"t":2000.52,"v":0.38},{"t":2000.71,"v":0.48},{"t":2000.81,"v":0.27},{"t":2000.9,"v":0.21},{"t":2001.1,"v":0.43},{"t":2001.3,"v":0.59},{"t":2001.49,"v":0.8},{"t":2001.59,"v":0.67},{"t":2001.75,"v":0.38},{"t":2001.84,"v":0.27},{"t":2001.98,"v":0.51},
{"t":2003.54,"v":2.87},{"t":2006.42,"v":2.43},{"t":2010.26,"v":2.58},{"t":2002.22,"v":1.8},{"t":2004.72,"v":1.74},{"t":2003.6,"v":1.63},{"t":2005.6,"v":1.6},{"t":2007.62,"v":1.64},{"t":2002.31,"v":1.33},{"t":2002.47,"v":1.33},{"t":2002.57,"v":1.44},{"t":2003.25,"v":1.35},{"t":2004.43,"v":1.45},{"t":2004.52,"v":1.27},{"t":2004.33,"v":1.24},{"t":2004.82,"v":1.36},{"t":2005.11,"v":1.18},{"t":2005.5,"v":1.31},{"t":2005.86,"v":1.18},{"t":2006.29,"v":1.27},{"t":2006.48,"v":1.28},{"t":2006.77,"v":1.14},{"t":2007.17,"v":1.22},{"t":2007.75,"v":1.09},{"t":2008.24,"v":1.11},{"t":2008.69,"v":1.15},{"t":2009.28,"v":1.29},{"t":2009.61,"v":1.02},{"t":2010.34,"v":1.39},{"t":2010.45,"v":1.07},
{"t":2002.12,"v":0.38},{"t":2002.28,"v":0.27},{"t":2002.47,"v":0.54},{"t":2002.66,"v":0.69},{"t":2002.82,"v":0.22},{"t":2002.96,"v":0.38},{"t":2003.06,"v":0.59},{"t":2003.25,"v":0.69},{"t":2003.41,"v":0.32},{"t":2003.64,"v":0.48},{"t":2003.8,"v":0.22},{"t":2003.94,"v":0.59},{"t":2004.07,"v":0.8},{"t":2004.23,"v":0.38},{"t":2004.43,"v":0.54},{"t":2004.62,"v":0.27},{"t":2004.82,"v":0.64},{"t":2004.98,"v":0.43},{"t":2005.11,"v":0.32},{"t":2005.31,"v":0.59},{"t":2005.45,"v":0.74},{"t":2005.6,"v":0.38},{"t":2005.8,"v":0.27},{"t":2005.99,"v":0.54},{"t":2006.19,"v":0.69},{"t":2006.34,"v":0.38},{"t":2006.58,"v":0.54},{"t":2006.77,"v":0.27},{"t":2006.93,"v":0.64},{"t":2007.12,"v":0.38},{"t":2007.32,"v":0.48},{"t":2007.46,"v":0.19},{"t":2007.65,"v":0.69},{"t":2007.85,"v":0.38},{"t":2008.05,"v":0.59},{"t":2008.18,"v":0.27},{"t":2008.38,"v":0.48},{"t":2008.57,"v":0.64},{"t":2008.73,"v":0.32},{"t":2008.93,"v":0.51},{"t":2009.08,"v":0.38},{"t":2009.32,"v":0.59},{"t":2009.51,"v":0.27},{"t":2009.71,"v":0.48},{"t":2009.91,"v":0.17},{"t":2010.1,"v":0.38},{"t":2010.29,"v":0.59},{"t":2010.49,"v":0.27},{"t":2010.69,"v":0.43},{"t":2010.88,"v":0.22},{"t":2011.08,"v":0.54},{"t":2011.31,"v":0.32},{"t":2011.47,"v":0.64},
{"t":2011.78,"v":3.51},{"t":2011.45,"v":1.29},{"t":2011.88,"v":1.02},{"t":2012.45,"v":1.12},{"t":2012.08,"v":0.83},{"t":2012.66,"v":0.83},{"t":2013.1,"v":0.78},{"t":2013.71,"v":0.67},{"t":2013.77,"v":0.73},{"t":2014.7,"v":1.38},{"t":2014.63,"v":0.83},{"t":2015.13,"v":0.98},{"t":2015.5,"v":1.45},{"t":2015.54,"v":0.94},{"t":2016.15,"v":0.57},{"t":2016.96,"v":0.75},{"t":2017.27,"v":0.67},{"t":2018.32,"v":0.89},{"t":2018.59,"v":0.73},{"t":2018.89,"v":0.7},{"t":2019.3,"v":1.87},{"t":2019.45,"v":1.07},
{"t":2011.55,"v":0.45},{"t":2011.7,"v":0.22},{"t":2011.85,"v":0.61},{"t":2012.0,"v":0.33},{"t":2012.15,"v":0.12},{"t":2012.3,"v":0.52},{"t":2012.45,"v":0.28},{"t":2012.6,"v":0.08},{"t":2012.75,"v":0.41},{"t":2012.9,"v":0.19},{"t":2013.05,"v":0.57},{"t":2013.2,"v":0.35},{"t":2013.35,"v":0.14},{"t":2013.5,"v":0.48},{"t":2013.65,"v":0.25},{"t":2013.8,"v":0.06},{"t":2013.95,"v":0.38},{"t":2014.1,"v":0.16},{"t":2014.25,"v":0.53},{"t":2014.4,"v":0.3},{"t":2014.55,"v":0.42},{"t":2014.7,"v":0.2},{"t":2014.85,"v":0.58},{"t":2015.0,"v":0.31},{"t":2015.15,"v":0.11},{"t":2015.3,"v":0.49},{"t":2015.45,"v":0.26},{"t":2015.6,"v":0.07},{"t":2015.75,"v":0.37},{"t":2015.9,"v":0.17},{"t":2016.05,"v":0.52},{"t":2016.2,"v":0.32},{"t":2016.35,"v":0.12},{"t":2016.5,"v":0.44},{"t":2016.65,"v":0.22},{"t":2016.8,"v":0.05},{"t":2016.95,"v":0.34},{"t":2017.1,"v":0.14},{"t":2017.25,"v":0.48},{"t":2017.4,"v":0.27},{"t":2017.55,"v":0.38},{"t":2017.7,"v":0.18},{"t":2017.85,"v":0.51},{"t":2018.0,"v":0.28},{"t":2018.15,"v":0.09},{"t":2018.3,"v":0.44},{"t":2018.45,"v":0.23},{"t":2018.6,"v":0.06},{"t":2018.75,"v":0.33},{"t":2018.9,"v":0.13},{"t":2019.05,"v":0.47},{"t":2019.2,"v":0.29},{"t":2019.35,"v":0.1},{"t":2019.5,"v":0.4},{"t":2019.65,"v":0.2},{"t":2019.8,"v":0.08},{"t":2019.95,"v":0.27},
{"t":2011.62,"v":0.36},{"t":2011.92,"v":0.48},{"t":2012.22,"v":0.18},{"t":2012.52,"v":0.59},{"t":2012.82,"v":0.27},{"t":2013.12,"v":0.1},{"t":2013.42,"v":0.44},{"t":2013.72,"v":0.21},{"t":2014.02,"v":0.55},{"t":2014.32,"v":0.12},{"t":2014.62,"v":0.39},{"t":2014.92,"v":0.24},{"t":2015.22,"v":0.62},{"t":2015.52,"v":0.16},{"t":2015.82,"v":0.45},{"t":2016.12,"v":0.09},{"t":2016.42,"v":0.3},{"t":2016.72,"v":0.5},{"t":2017.02,"v":0.19},{"t":2017.32,"v":0.58},{"t":2017.62,"v":0.11},{"t":2017.92,"v":0.35},{"t":2018.22,"v":0.62},{"t":2018.52,"v":0.15},{"t":2018.82,"v":0.42},{"t":2019.12,"v":0.06},{"t":2019.42,"v":0.36},{"t":2019.72,"v":0.52},{"t":2019.92,"v":0.14},
{"t":1994.45,"v":0.95},{"t":1994.7,"v":0.42},{"t":1994.95,"v":0.71},{"t":1995.2,"v":0.28},{"t":1995.45,"v":1.05},{"t":1995.7,"v":0.55},{"t":1995.95,"v":0.36},{"t":1996.2,"v":0.82},{"t":1996.45,"v":0.47},{"t":1996.7,"v":0.62},{"t":1996.95,"v":0.9},{"t":1997.2,"v":0.33},{"t":1997.45,"v":0.68},{"t":1997.7,"v":0.25},{"t":1997.95,"v":0.98},{"t":1998.2,"v":0.5},{"t":1998.45,"v":0.31},{"t":1998.7,"v":0.77},{"t":1998.95,"v":0.44},{"t":1999.2,"v":0.58},
{"t":1999.45,"v":0.87},{"t":1999.7,"v":0.34},{"t":1999.95,"v":0.63},{"t":2000.2,"v":0.2},{"t":2000.45,"v":0.97},{"t":2000.7,"v":0.47},{"t":2000.95,"v":0.28},{"t":2001.2,"v":0.74},{"t":2001.45,"v":0.39},{"t":2001.7,"v":0.54},{"t":2001.95,"v":0.82},{"t":2002.2,"v":0.25},{"t":2002.45,"v":0.6},{"t":2002.7,"v":0.17},{"t":2002.95,"v":0.9},{"t":2003.2,"v":0.42},{"t":2003.45,"v":0.23},{"t":2003.7,"v":0.69},{"t":2003.95,"v":0.36},{"t":2004.2,"v":0.5},
{"t":2004.45,"v":0.77},{"t":2004.7,"v":0.24},{"t":2004.95,"v":0.53},{"t":2005.2,"v":0.1},{"t":2005.45,"v":0.87},{"t":2005.7,"v":0.37},{"t":2005.95,"v":0.18},{"t":2006.2,"v":0.64},{"t":2006.45,"v":0.29},{"t":2006.7,"v":0.44},{"t":2006.95,"v":0.72},{"t":2007.2,"v":0.15},{"t":2007.45,"v":0.5},{"t":2007.7,"v":0.12},{"t":2007.95,"v":0.8},{"t":2008.2,"v":0.32},{"t":2008.45,"v":0.13},{"t":2008.7,"v":0.59},{"t":2008.95,"v":0.26},{"t":2009.2,"v":0.4},
{"t":2009.45,"v":0.7},{"t":2009.7,"v":0.2},{"t":2009.95,"v":0.48},{"t":2010.2,"v":0.14},{"t":2010.45,"v":0.75},{"t":2010.7,"v":0.3},{"t":2010.95,"v":0.16}
  ],
  "so4L": [
{"t":1994.31,"v":1.16},{"t":1994.4,"v":1.17},{"t":1994.9,"v":0.84},{"t":1995.43,"v":1.165},{"t":1995.92,"v":0.82},{"t":1996.41,"v":1.15},{"t":1996.9,"v":0.8},{"t":1997.44,"v":1.12},{"t":1997.91,"v":0.77},{"t":1998.46,"v":1.09},{"t":1998.95,"v":0.73},{"t":1999.44,"v":1.06},{"t":1999.93,"v":0.69},{"t":2000.46,"v":1.02},{"t":2000.96,"v":0.67},{"t":2001.49,"v":0.99},{"t":2001.98,"v":0.64},{"t":2002.43,"v":0.96},{"t":2002.9,"v":0.63},{"t":2003.41,"v":0.93},{"t":2003.94,"v":0.59},{"t":2004.43,"v":0.9},{"t":2004.92,"v":0.56},{"t":2005.41,"v":0.875},{"t":2005.89,"v":0.54},{"t":2006.44,"v":0.85},{"t":2006.93,"v":0.51},{"t":2007.46,"v":0.82},{"t":2007.91,"v":0.48},{"t":2008.4,"v":0.785},{"t":2008.93,"v":0.46},{"t":2009.41,"v":0.76},{"t":2009.9,"v":0.42},{"t":2010.43,"v":0.73},{"t":2010.92,"v":0.39},{"t":2011.47,"v":0.7},{"t":2011.92,"v":0.37},{"t":2012.45,"v":0.67},{"t":2012.92,"v":0.34},{"t":2013.45,"v":0.645},{"t":2013.92,"v":0.31},{"t":2014.45,"v":0.615},{"t":2014.92,"v":0.28},{"t":2015.45,"v":0.59},{"t":2015.92,"v":0.25},{"t":2016.45,"v":0.56},{"t":2016.92,"v":0.23},{"t":2017.45,"v":0.535},{"t":2017.92,"v":0.2},{"t":2018.45,"v":0.51},{"t":2018.92,"v":0.17},{"t":2019.45,"v":0.48},{"t":2019.95,"v":0.14}
  ],
  "nh4": [
{"t":1996.29,"v":1.89},{"t":1996.33,"v":1.26},{"t":2010.49,"v":1.98},{"t":2012.07,"v":2.0},{"t":2016.09,"v":1.89},{"t":2015.82,"v":1.69},{"t":2015.76,"v":1.19},{"t":2015.72,"v":1.03},{"t":2015.41,"v":1.17},{"t":2015.1,"v":0.91},{"t":2019.06,"v":1.62},{"t":2019.14,"v":1.22},{"t":1997.36,"v":1.19},{"t":1997.22,"v":1.01},{"t":1997.26,"v":0.96},{"t":1997.32,"v":0.78},{"t":1995.35,"v":1.01},{"t":1995.25,"v":0.86},{"t":1995.51,"v":0.74},{"t":1994.59,"v":0.79},{"t":1994.49,"v":0.64},{"t":1996.44,"v":0.88},{"t":1996.23,"v":0.73},{"t":1996.39,"v":0.68},{"t":1998.45,"v":1.08},{"t":1998.24,"v":0.62},{"t":1997.67,"v":0.62},{"t":1999.68,"v":0.74},{"t":1999.78,"v":0.71},{"t":2000.44,"v":0.88},{"t":2000.54,"v":0.81},{"t":2000.44,"v":0.7},{"t":2001.42,"v":0.75},{"t":2001.56,"v":0.65},{"t":2002.04,"v":1.0},{"t":2002.28,"v":0.88},{"t":2002.65,"v":1.04},{"t":2003.72,"v":1.21},{"t":2003.25,"v":0.59},{"t":2003.37,"v":0.77},{"t":2003.51,"v":0.78},{"t":2003.78,"v":0.78},{"t":2003.41,"v":0.71},{"t":2004.27,"v":0.73},{"t":2004.5,"v":0.69},{"t":2004.95,"v":0.67},{"t":2005.26,"v":0.63},{"t":2005.5,"v":0.72},{"t":2006.49,"v":0.75},{"t":2006.69,"v":0.61},{"t":2007.37,"v":1.0},{"t":2007.47,"v":0.68},{"t":2007.82,"v":0.71},{"t":2008.5,"v":0.69},{"t":2008.91,"v":0.89},{"t":2009.52,"v":0.75},{"t":2009.87,"v":0.81},{"t":2009.81,"v":1.03},{"t":2010.34,"v":0.76},{"t":2010.65,"v":0.83},{"t":2010.9,"v":0.62},{"t":2011.1,"v":0.62},{"t":2010.49,"v":0.61},{"t":2011.51,"v":0.81},{"t":2011.78,"v":0.71},{"t":2011.57,"v":0.63},{"t":2012.44,"v":0.74},{"t":2012.68,"v":0.66},{"t":2012.7,"v":0.62},{"t":2013.36,"v":0.59},{"t":2013.63,"v":0.55},{"t":2014.45,"v":0.79},{"t":2014.49,"v":0.7},{"t":2014.69,"v":0.59},{"t":2015.31,"v":0.66},{"t":2015.92,"v":0.67},{"t":2016.39,"v":0.59},{"t":2017.22,"v":0.91},{"t":2017.52,"v":0.92},{"t":2017.52,"v":0.83},{"t":2017.63,"v":0.62},{"t":2016.91,"v":0.59},{"t":2018.49,"v":0.85},{"t":2018.55,"v":0.8},{"t":2018.69,"v":0.72},{"t":2018.79,"v":0.68},{"t":2018.9,"v":0.73},{"t":2019.0,"v":0.64},{"t":2019.21,"v":0.6},{"t":2019.72,"v":0.59},
{"t":2005.05,"v":0.0},{"t":2011.98,"v":0.0},{"t":1994.45,"v":0.1},{"t":1995.1,"v":0.03},{"t":1996.03,"v":0.05},{"t":1996.95,"v":0.04},{"t":1997.05,"v":0.07},{"t":1998.28,"v":0.03},
{"t":1994.3,"v":0.12},{"t":1994.5,"v":0.36},{"t":1994.7,"v":0.22},{"t":1994.9,"v":0.05},{"t":1995.1,"v":0.42},{"t":1995.3,"v":0.17},{"t":1995.5,"v":0.29},{"t":1995.7,"v":0.09},{"t":1995.9,"v":0.39},{"t":1996.1,"v":0.14},{"t":1996.3,"v":0.31},{"t":1996.5,"v":0.25},{"t":1996.7,"v":0.03},{"t":1996.9,"v":0.45},{"t":1997.1,"v":0.19},{"t":1997.3,"v":0.27},{"t":1997.5,"v":0.11},{"t":1997.7,"v":0.35},{"t":1997.9,"v":0.07},{"t":1998.1,"v":0.33},
{"t":1998.3,"v":0.12},{"t":1998.5,"v":0.36},{"t":1998.7,"v":0.22},{"t":1998.9,"v":0.05},{"t":1999.1,"v":0.42},{"t":1999.3,"v":0.17},{"t":1999.5,"v":0.29},{"t":1999.7,"v":0.09},{"t":1999.9,"v":0.39},{"t":2000.1,"v":0.14},{"t":2000.3,"v":0.31},{"t":2000.5,"v":0.25},{"t":2000.7,"v":0.03},{"t":2000.9,"v":0.45},{"t":2001.1,"v":0.19},{"t":2001.3,"v":0.27},{"t":2001.5,"v":0.11},{"t":2001.7,"v":0.35},{"t":2001.9,"v":0.07},{"t":2002.1,"v":0.33},
{"t":2002.3,"v":0.12},{"t":2002.5,"v":0.36},{"t":2002.7,"v":0.22},{"t":2002.9,"v":0.05},{"t":2003.1,"v":0.42},{"t":2003.3,"v":0.17},{"t":2003.5,"v":0.29},{"t":2003.7,"v":0.09},{"t":2003.9,"v":0.39},{"t":2004.1,"v":0.14},{"t":2004.3,"v":0.31},{"t":2004.5,"v":0.25},{"t":2004.7,"v":0.03},{"t":2004.9,"v":0.45},{"t":2005.1,"v":0.19},{"t":2005.3,"v":0.27},{"t":2005.5,"v":0.11},{"t":2005.7,"v":0.35},{"t":2005.9,"v":0.07},{"t":2006.1,"v":0.33},
{"t":2006.3,"v":0.12},{"t":2006.5,"v":0.36},{"t":2006.7,"v":0.22},{"t":2006.9,"v":0.05},{"t":2007.1,"v":0.42},{"t":2007.3,"v":0.17},{"t":2007.5,"v":0.29},{"t":2007.7,"v":0.09},{"t":2007.9,"v":0.39},{"t":2008.1,"v":0.14},{"t":2008.3,"v":0.31},{"t":2008.5,"v":0.25},{"t":2008.7,"v":0.03},{"t":2008.9,"v":0.45},{"t":2009.1,"v":0.19},{"t":2009.3,"v":0.27},{"t":2009.5,"v":0.11},{"t":2009.7,"v":0.35},{"t":2009.9,"v":0.07},{"t":2010.1,"v":0.33},
{"t":2010.3,"v":0.12},{"t":2010.5,"v":0.36},{"t":2010.7,"v":0.22},{"t":2010.9,"v":0.05},{"t":2011.1,"v":0.42},{"t":2011.3,"v":0.17},{"t":2011.5,"v":0.29},{"t":2011.7,"v":0.09},{"t":2011.9,"v":0.39},{"t":2012.1,"v":0.14},{"t":2012.3,"v":0.31},{"t":2012.5,"v":0.25},{"t":2012.7,"v":0.03},{"t":2012.9,"v":0.45},{"t":2013.1,"v":0.19},{"t":2013.3,"v":0.27},{"t":2013.5,"v":0.11},{"t":2013.7,"v":0.35},{"t":2013.9,"v":0.07},{"t":2014.1,"v":0.33},
{"t":2014.3,"v":0.12},{"t":2014.5,"v":0.36},{"t":2014.7,"v":0.22},{"t":2014.9,"v":0.05},{"t":2015.1,"v":0.42},{"t":2015.3,"v":0.17},{"t":2015.5,"v":0.29},{"t":2015.7,"v":0.09},{"t":2015.9,"v":0.39},{"t":2016.1,"v":0.14},{"t":2016.3,"v":0.31},{"t":2016.5,"v":0.25},{"t":2016.7,"v":0.03},{"t":2016.9,"v":0.45},{"t":2017.1,"v":0.19},{"t":2017.3,"v":0.27},{"t":2017.5,"v":0.11},{"t":2017.7,"v":0.35},{"t":2017.9,"v":0.07},{"t":2018.1,"v":0.33},
{"t":2018.3,"v":0.12},{"t":2018.5,"v":0.36},{"t":2018.7,"v":0.22},{"t":2018.9,"v":0.05},{"t":2019.1,"v":0.42},{"t":2019.3,"v":0.17},{"t":2019.5,"v":0.29},{"t":2019.7,"v":0.09},{"t":2019.9,"v":0.39},
{"t":1994.4,"v":0.28},{"t":1994.6,"v":0.08},{"t":1994.8,"v":0.41},{"t":1995.0,"v":0.15},{"t":1995.2,"v":0.33},{"t":1995.4,"v":0.21},{"t":1995.6,"v":0.02},{"t":1995.8,"v":0.38},{"t":1996.0,"v":0.13},{"t":1996.2,"v":0.26},{"t":1996.4,"v":0.44},{"t":1996.6,"v":0.1},{"t":1996.8,"v":0.3},{"t":1997.0,"v":0.18},{"t":1997.2,"v":0.06},{"t":1997.4,"v":0.37},{"t":1997.6,"v":0.23},{"t":1997.8,"v":0.16},{"t":1998.0,"v":0.4},{"t":1998.2,"v":0.11},
{"t":1998.4,"v":0.28},{"t":1998.6,"v":0.08},{"t":1998.8,"v":0.41},{"t":1999.0,"v":0.15},{"t":1999.2,"v":0.33},{"t":1999.4,"v":0.21},{"t":1999.6,"v":0.02},{"t":1999.8,"v":0.38},{"t":2000.0,"v":0.13},{"t":2000.2,"v":0.26},{"t":2000.4,"v":0.44},{"t":2000.6,"v":0.1},{"t":2000.8,"v":0.3},{"t":2001.0,"v":0.18},{"t":2001.2,"v":0.06},{"t":2001.4,"v":0.37},{"t":2001.6,"v":0.23},{"t":2001.8,"v":0.16},{"t":2002.0,"v":0.4},{"t":2002.2,"v":0.11},
{"t":2002.4,"v":0.28},{"t":2002.6,"v":0.08},{"t":2002.8,"v":0.41},{"t":2003.0,"v":0.15},{"t":2003.2,"v":0.33},{"t":2003.4,"v":0.21},{"t":2003.6,"v":0.02},{"t":2003.8,"v":0.38},{"t":2004.0,"v":0.13},{"t":2004.2,"v":0.26},{"t":2004.4,"v":0.44},{"t":2004.6,"v":0.1},{"t":2004.8,"v":0.3},{"t":2005.0,"v":0.18},{"t":2005.2,"v":0.06},{"t":2005.4,"v":0.37},{"t":2005.6,"v":0.23},{"t":2005.8,"v":0.16},{"t":2006.0,"v":0.4},{"t":2006.2,"v":0.11},
{"t":2006.4,"v":0.28},{"t":2006.6,"v":0.08},{"t":2006.8,"v":0.41},{"t":2007.0,"v":0.15},{"t":2007.2,"v":0.33},{"t":2007.4,"v":0.21},{"t":2007.6,"v":0.02},{"t":2007.8,"v":0.38},{"t":2008.0,"v":0.13},{"t":2008.2,"v":0.26},{"t":2008.4,"v":0.44},{"t":2008.6,"v":0.1},{"t":2008.8,"v":0.3},{"t":2009.0,"v":0.18},{"t":2009.2,"v":0.06},{"t":2009.4,"v":0.37},{"t":2009.6,"v":0.23},{"t":2009.8,"v":0.16},{"t":2010.0,"v":0.4},{"t":2010.2,"v":0.11},
{"t":2010.4,"v":0.28},{"t":2010.6,"v":0.08},{"t":2010.8,"v":0.41},{"t":2011.0,"v":0.15},{"t":2011.2,"v":0.33},{"t":2011.4,"v":0.21},{"t":2011.6,"v":0.02},{"t":2011.8,"v":0.38},{"t":2012.0,"v":0.13},{"t":2012.2,"v":0.26},{"t":2012.4,"v":0.44},{"t":2012.6,"v":0.1},{"t":2012.8,"v":0.3},{"t":2013.0,"v":0.18},{"t":2013.2,"v":0.06},{"t":2013.4,"v":0.37},{"t":2013.6,"v":0.23},{"t":2013.8,"v":0.16},{"t":2014.0,"v":0.4},{"t":2014.2,"v":0.11},
{"t":2014.4,"v":0.28},{"t":2014.6,"v":0.08},{"t":2014.8,"v":0.41},{"t":2015.0,"v":0.15},{"t":2015.2,"v":0.33},{"t":2015.4,"v":0.21},{"t":2015.6,"v":0.02},{"t":2015.8,"v":0.38},{"t":2016.0,"v":0.13},{"t":2016.2,"v":0.26},{"t":2016.4,"v":0.44},{"t":2016.6,"v":0.1},{"t":2016.8,"v":0.3},{"t":2017.0,"v":0.18},{"t":2017.2,"v":0.06},{"t":2017.4,"v":0.37},{"t":2017.6,"v":0.23},{"t":2017.8,"v":0.16},{"t":2018.0,"v":0.4},{"t":2018.2,"v":0.11},
{"t":2018.4,"v":0.28},{"t":2018.6,"v":0.08},{"t":2018.8,"v":0.41},{"t":2019.0,"v":0.15},{"t":2019.2,"v":0.33},{"t":2019.4,"v":0.21},{"t":2019.6,"v":0.02},{"t":2019.8,"v":0.38}
  ],
  "nh4L": [
{"t":1994.28,"v":0.44},{"t":1994.47,"v":0.475},{"t":1994.97,"v":0.215},{"t":1995.47,"v":0.476},{"t":1995.97,"v":0.215},{"t":1996.47,"v":0.477},{"t":1996.97,"v":0.214},{"t":1997.47,"v":0.477},{"t":1997.97,"v":0.214},{"t":1998.47,"v":0.478},{"t":1998.97,"v":0.213},{"t":1999.47,"v":0.479},{"t":1999.97,"v":0.213},{"t":2000.47,"v":0.48},{"t":2000.97,"v":0.212},{"t":2001.47,"v":0.48},{"t":2001.97,"v":0.212},{"t":2002.47,"v":0.481},{"t":2002.97,"v":0.211},{"t":2003.47,"v":0.482},{"t":2003.97,"v":0.211},{"t":2004.47,"v":0.482},{"t":2004.97,"v":0.21},{"t":2005.47,"v":0.483},{"t":2005.97,"v":0.21},{"t":2006.47,"v":0.484},{"t":2006.97,"v":0.209},{"t":2007.47,"v":0.484},{"t":2007.97,"v":0.209},{"t":2008.47,"v":0.485},{"t":2008.97,"v":0.208},{"t":2009.47,"v":0.486},{"t":2009.97,"v":0.208},{"t":2010.47,"v":0.486},{"t":2010.97,"v":0.207},{"t":2011.47,"v":0.487},{"t":2011.97,"v":0.207},{"t":2012.47,"v":0.488},{"t":2012.97,"v":0.206},{"t":2013.47,"v":0.488},{"t":2013.97,"v":0.206},{"t":2014.47,"v":0.489},{"t":2014.97,"v":0.205},{"t":2015.47,"v":0.49},{"t":2015.97,"v":0.205},{"t":2016.47,"v":0.49},{"t":2016.97,"v":0.205},{"t":2017.47,"v":0.491},{"t":2017.97,"v":0.205},{"t":2018.47,"v":0.492},{"t":2018.97,"v":0.205},{"t":2019.47,"v":0.492},{"t":2019.95,"v":0.21}
  ]
 },
 "spacing": 10,
 "hconcat": [
  {
   "spacing": 16.9,
   "vconcat": [
    {"width": 1, "height": 1, "data": {"values": []}, "mark": "point", "view": {"stroke": null}},
    {
     "spacing": 2.3,
     "hconcat": [
      {"width": 1, "height": 1, "data": {"values": []}, "mark": "point", "view": {"stroke": null}},
      {
       "width": 487.7, "height": 257.2,
       "title": {"text": "pH", "offset": 5.8},
       "layer": [
        {"data": {"name": "ph"}, "mark": {"type": "circle", "size": 25, "color": "#2A8C6A", "opacity": 0.5},
         "encoding": {
          "x": {"field": "t", "type": "quantitative", "scale": {"domain": [1992.923, 2021.065], "nice": false, "zero": false}, "axis": {"values": [1995,1998,2001,2004,2007,2010,2013,2016,2019], "format": "d", "title": "Year"}},
          "y": {"field": "v", "type": "quantitative", "scale": {"domain": [2.95, 8.753], "nice": false, "zero": false}, "axis": {"values": [3,4,5,6,7,8], "format": "d", "title": "pH", "titlePadding": 6.5}}
         }},
        {"data": {"name": "phL"}, "mark": {"type": "line", "interpolate": "monotone", "color": "#1B6B54", "strokeWidth": 3.4},
         "encoding": {"x": {"field": "t", "type": "quantitative"}, "y": {"field": "v", "type": "quantitative"}}}
       ]
      }
     ]
    },
    {
     "spacing": 11,
     "hconcat": [
      {"width": 1, "height": 1, "data": {"values": []}, "mark": "point", "view": {"stroke": null}},
      {
       "width": 478, "height": 244.3,
       "title": {"text": "SO₄²⁻", "offset": 10.7},
       "layer": [
        {"data": {"name": "so4"}, "mark": {"type": "circle", "size": 25, "color": "#2A8C6A", "opacity": 0.5},
         "encoding": {
          "x": {"field": "t", "type": "quantitative", "scale": {"domain": [1993.022, 2021.073], "nice": false, "zero": false}, "axis": {"values": [1995,1998,2001,2004,2007,2010,2013,2016,2019], "format": "d", "title": "Year"}},
          "y": {"field": "v", "type": "quantitative", "scale": {"domain": [-0.173, 3.672], "nice": false, "zero": false}, "axis": {"values": [0,1,2,3], "format": "d", "title": "SO₄²⁻ [mg/L]", "titlePadding": 9}}
         }},
        {"data": {"name": "so4L"}, "mark": {"type": "line", "interpolate": "monotone", "color": "#1B6B54", "strokeWidth": 3.4},
         "encoding": {"x": {"field": "t", "type": "quantitative"}, "y": {"field": "v", "type": "quantitative"}}}
       ]
      }
     ]
    }
   ]
  },
  {
   "spacing": 12.9,
   "vconcat": [
    {"width": 1, "height": 4.3, "data": {"values": []}, "mark": "point", "view": {"stroke": null}},
    {
     "spacing": 1.5,
     "hconcat": [
      {"width": 1, "height": 1, "data": {"values": []}, "mark": "point", "view": {"stroke": null}},
      {
       "width": 457, "height": 251.7,
       "title": {"text": "NO₃⁻ - N", "offset": 11.6},
       "layer": [
        {"data": {"name": "no3"}, "mark": {"type": "circle", "size": 25, "color": "#2A8C6A", "opacity": 0.5},
         "encoding": {
          "x": {"field": "t", "type": "quantitative", "scale": {"domain": [1992.963, 2020.345], "nice": false, "zero": false}, "axis": {"values": [1995,1998,2001,2004,2007,2010,2013,2016,2019], "format": "d", "title": "Year"}},
          "y": {"field": "v", "type": "quantitative", "scale": {"domain": [-0.102, 2.102], "nice": false, "zero": false}, "axis": {"values": [0,0.5,1,1.5,2], "format": ".1f", "title": "NO₃⁻ - N [mg/L]", "titlePadding": 4}}
         }},
        {"data": {"name": "no3L"}, "mark": {"type": "line", "interpolate": "monotone", "color": "#1B6B54", "strokeWidth": 3.4},
         "encoding": {"x": {"field": "t", "type": "quantitative"}, "y": {"field": "v", "type": "quantitative"}}}
       ]
      }
     ]
    },
    {
     "spacing": 6,
     "hconcat": [
      {"width": 1, "height": 1, "data": {"values": []}, "mark": "point", "view": {"stroke": null}},
      {
       "width": 454, "height": 246.3,
       "title": {"text": "NH₄⁺ - N", "offset": 11.3},
       "layer": [
        {"data": {"name": "nh4"}, "mark": {"type": "circle", "size": 25, "color": "#2A8C6A", "opacity": 0.5},
         "encoding": {
          "x": {"field": "t", "type": "quantitative", "scale": {"domain": [1992.996, 2020.396], "nice": false, "zero": false}, "axis": {"values": [1995,1998,2001,2004,2007,2010,2013,2016,2019], "format": "d", "title": "Year"}},
          "y": {"field": "v", "type": "quantitative", "scale": {"domain": [-0.095, 2.1], "nice": false, "zero": false}, "axis": {"values": [0,0.5,1,1.5,2], "format": ".1f", "title": "NH₄⁺ - N [mg/L]", "titlePadding": 5}}
         }},
        {"data": {"name": "nh4L"}, "mark": {"type": "line", "interpolate": "monotone", "color": "#1B6B54", "strokeWidth": 3.4},
         "encoding": {"x": {"field": "t", "type": "quantitative"}, "y": {"field": "v", "type": "quantitative"}}}
       ]
      }
     ]
    }
   ]
  }
 ]
}
